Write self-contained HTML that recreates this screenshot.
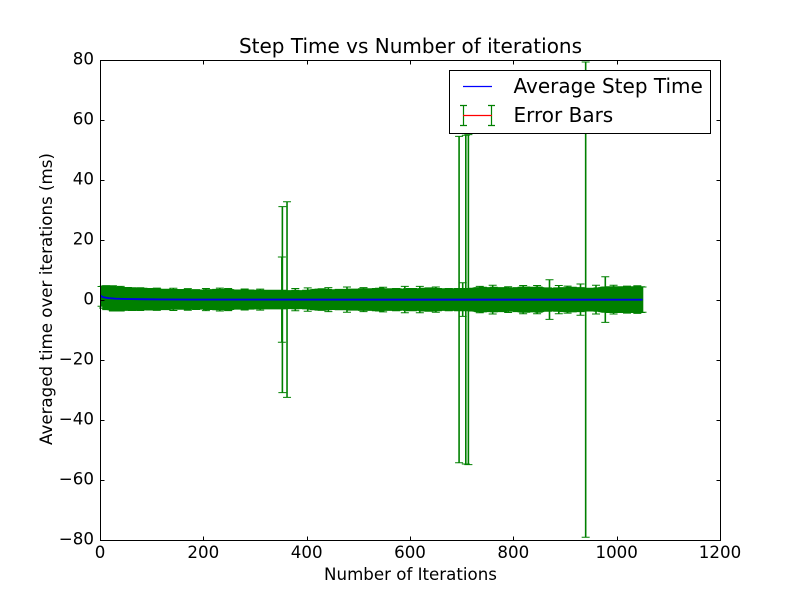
<!DOCTYPE html>
<html>
<head>
<meta charset="utf-8">
<title>Step Time vs Number of iterations</title>
<style>
html,body{margin:0;padding:0;background:#fff;width:800px;height:600px;overflow:hidden}
svg{display:block}
text{font-family:"DejaVu Sans","Liberation Sans",sans-serif;fill:#000}
</style>
</head>
<body>
<svg id="chart" width="800" height="600" viewBox="0 0 800 600" xmlns="http://www.w3.org/2000/svg">
  <rect x="0" y="0" width="800" height="600" fill="#fff"/>
  <g id="bars"></g>
  <g id="caps"></g>
  <path id="meanLine" fill="none" stroke="#0000e6" stroke-width="1.9"></path>
  <rect x="100.5" y="60.5" width="620" height="480" fill="none" stroke="#000" stroke-width="1"/>
  <g id="ticks"></g>
  <text x="410.5" y="53" font-size="20" text-anchor="middle">Step Time vs Number of iterations</text>
  <text x="410.5" y="580" font-size="16.67" text-anchor="middle">Number of Iterations</text>
  <text x="0" y="0" transform="translate(52,299) rotate(-90)" font-size="16.67" text-anchor="middle">Averaged time over iterations (ms)</text>
  <g>
    <rect x="449.5" y="70.5" width="261" height="63" fill="#fff" stroke="#000" stroke-width="1"/>
    <line x1="463" y1="86.5" x2="492" y2="86.5" stroke="#0000ff" stroke-width="1.2"/>
    <text x="513.5" y="93" font-size="20">Average Step Time</text>
    <g stroke="#008000" stroke-width="1.2" fill="none">
      <path d="M463.5 105.5V125.5M491.5 105.5V125.5M460 105.5H467M460 125.5H467M488 105.5H495M488 125.5H495"/>
    </g>
    <line x1="463" y1="115.5" x2="492" y2="115.5" stroke="#ff0000" stroke-width="1.2"/>
    <text x="513.5" y="122" font-size="20">Error Bars</text>
  </g>
</svg>
<script>
const iterationStep = 3;
const errorValues = [
3.3,3.6,3.7,3.8,3.8,3.8,3.9,3.9,3.8,3.9,3.7,3.8,3.7,3.6,3.7,3.7,3.6,3.8,3.6,3.7,3.5,3.6,3.7,3.5,3.6,
3.5,3.5,3.6,3.5,3.4,3.5,3.6,3.4,3.3,3.4,3.5,3.4,3.3,3.3,3.4,3.3,3.2,3.4,3.3,3.2,3.3,3.3,3.1,3.2,3.3,
3.2,3.3,3.1,3.2,3.2,3.3,3.1,3.1,3.2,3.2,3.1,3.3,3.2,3.1,3.1,3.2,3.2,3.1,3.3,3.3,3.2,3.1,3.2,3.3,3.4,
3.3,3.2,3.3,3.4,3.4,3.3,3.3,3.4,3.3,3.2,3.1,3.2,3.2,3.1,3.1,3.2,3.2,3.1,3.0,3.1,3.1,3.2,3.1,3.0,3.1,
3.1,3.0,3.1,3.0,3.1,3.0,3.0,3.1,3.0,2.9,3.0,3.0,3.1,3.0,3.0,2.9,3.0,3.1,3.0,3.0,2.9,3.0,2.9,3.0,3.0,
3.1,3.0,2.9,3.0,3.0,2.9,3.0,3.1,3.1,3.0,3.1,3.2,3.3,3.4,3.4,3.5,3.5,3.6,3.5,3.4,3.3,3.4,3.3,3.2,3.3,
3.3,3.2,3.3,3.4,3.3,3.3,3.4,3.3,3.2,3.3,3.4,3.5,3.4,3.3,3.4,3.5,3.4,3.5,3.6,3.5,3.4,3.5,3.6,3.6,3.5,
3.5,3.6,3.7,3.6,3.8,3.7,3.6,3.5,3.6,3.5,3.4,3.5,3.6,3.5,3.6,3.7,3.6,3.5,3.5,3.4,3.5,3.5,3.6,3.6,3.7,
3.6,3.7,3.6,3.5,3.6,3.5,3.6,3.7,3.8,3.7,3.8,3.9,3.8,3.7,3.8,3.7,3.6,3.7,3.6,3.6,3.5,3.6,3.5,3.6,3.7,
3.6,3.5,3.5,3.6,3.6,3.7,3.6,3.5,3.6,3.6,3.7,3.6,3.6,3.7,3.8,3.7,3.8,3.9,4.0,3.9,4.0,4.1,3.9,3.8,3.9,
4.0,3.9,4.0,4.1,3.9,3.8,3.9,4.0,3.9,4.0,3.8,3.7,3.8,3.9,3.8,3.7,3.8,3.9,4.0,3.9,4.0,4.1,4.2,4.1,4.2,
4.1,4.0,4.1,4.0,3.9,4.0,4.1,4.2,4.0,3.9,3.8,3.9,3.8,3.9,3.8,3.7,3.8,3.7,3.8,3.9,3.8,3.9,4.0,3.9,3.8,
3.9,4.0,4.1,4.0,4.1,4.0,3.9,3.8,3.9,4.0,3.9,3.8,3.7,3.8,3.7,3.8,3.7,3.6,3.7,3.8,3.9,3.8,3.9,4.0,4.1,
4.2,4.1,4.2,4.3,4.2,4.3,4.2,4.1,4.2,4.3,4.2,4.1,4.2,4.3,4.2,4.3,4.2,4.1,4.2,4.3,4.2,4.1,4.2,4.3,4.2
];
const spikeIterations = [12,25,40,62,78,110,142,170,205,232,248,280,310,352,353,362,378,402,442,478,510,548,590,619,650,695,702,708,713,735,760,790,819,846,870,888,905,930,940,960,978,994,1020,1040];
const spikeErrors = [4.0,4.2,4.1,3.8,3.8,3.7,3.7,3.6,3.7,3.8,3.7,3.5,3.5,14.2,31.0,32.6,3.7,3.9,4.0,4.2,4.0,4.1,4.4,4.4,4.2,54.4,5.6,54.8,55.0,4.4,4.8,4.3,4.7,4.7,6.6,4.7,4.5,5.2,79.2,4.8,7.6,4.8,4.5,4.6];
const meanIterations = [1,3,6,10,15,22,30,45,60,85,120,180,300,1050];
const meanValues = [1.5,1.2,0.95,0.8,0.65,0.55,0.45,0.35,0.3,0.25,0.2,0.15,0.13,0.12];
const xTickValues = [0,200,400,600,800,1000,1200];
const yTickValues = [-80,-60,-40,-20,0,20,40,60,80];

const NS = 'http://www.w3.org/2000/svg';
const xScale = function (v) { return 100 + v * 620 / 1200; };
const yScale = function (v) { return 300 - v * 480 / 160; };
const meanAt = function (iter) {
  let m = meanValues[0];
  for (let i = 0; i < meanIterations.length; i++) {
    if (meanIterations[i] <= iter) m = meanValues[i];
  }
  return m;
};
const barPath = [];
const capPath = [];
const addBar = function (iter, err) {
  const mean = meanAt(iter);
  const x = xScale(iter);
  const top = yScale(mean + err);
  const bottom = yScale(mean - err);
  barPath.push('M' + x.toFixed(2) + ' ' + top.toFixed(2) + 'V' + bottom.toFixed(2));
  capPath.push('M' + (x - 4).toFixed(2) + ' ' + top.toFixed(2) + 'h8');
  capPath.push('M' + (x - 4).toFixed(2) + ' ' + bottom.toFixed(2) + 'h8');
};
errorValues.forEach(function (err, i) { addBar((i + 1) * iterationStep, err); });
spikeIterations.forEach(function (iter, i) { addBar(iter, spikeErrors[i]); });

const barsEl = document.createElementNS(NS, 'path');


barsEl.setAttribute('d', barPath.join(''));
barsEl.setAttribute('stroke', '#008000');
barsEl.setAttribute('stroke-width', '1.6');
barsEl.setAttribute('fill', 'none');
document.getElementById('bars').appendChild(barsEl);

const capsEl = document.createElementNS(NS, 'path');


capsEl.setAttribute('d', capPath.join(''));
capsEl.setAttribute('stroke', '#008000');
capsEl.setAttribute('stroke-width', '1');
capsEl.setAttribute('fill', 'none');
document.getElementById('caps').appendChild(capsEl);

document.getElementById('meanLine').setAttribute('d', meanIterations.map(function (iter, i) {
  return (i ? 'L' : 'M') + xScale(iter).toFixed(2) + ' ' + yScale(meanValues[i]).toFixed(2);
}).join(''));

const ticksEl = document.getElementById('ticks');
const tickPath = [];
xTickValues.forEach(function (v) {
  const x = Math.round(xScale(v)) + 0.5;
  tickPath.push('M' + x + ' 540.5v-4M' + x + ' 60.5v4');
  const label = document.createElementNS(NS, 'text');
  
  
  label.setAttribute('x', xScale(v));
  label.setAttribute('y', 558);
  label.setAttribute('font-size', '16.67');
  label.setAttribute('text-anchor', 'middle');
  label.textContent = String(v);
  ticksEl.appendChild(label);
});
yTickValues.forEach(function (v) {
  const y = Math.round(yScale(v)) + 0.5;
  tickPath.push('M100.5 ' + y + 'h4M720.5 ' + y + 'h-4');
  const label = document.createElementNS(NS, 'text');
  
  
  label.setAttribute('x', 94);
  label.setAttribute('y', yScale(v) + 4.5);
  label.setAttribute('font-size', '16.67');
  label.setAttribute('text-anchor', 'end');
  label.textContent = String(v).replace('-', '\u2212');
  ticksEl.appendChild(label);
});
const tickMarks = document.createElementNS(NS, 'path');


tickMarks.setAttribute('d', tickPath.join(''));
tickMarks.setAttribute('stroke', '#000');
tickMarks.setAttribute('stroke-width', '1');
tickMarks.setAttribute('fill', 'none');
ticksEl.appendChild(tickMarks);
</script>
</body>
</html>
